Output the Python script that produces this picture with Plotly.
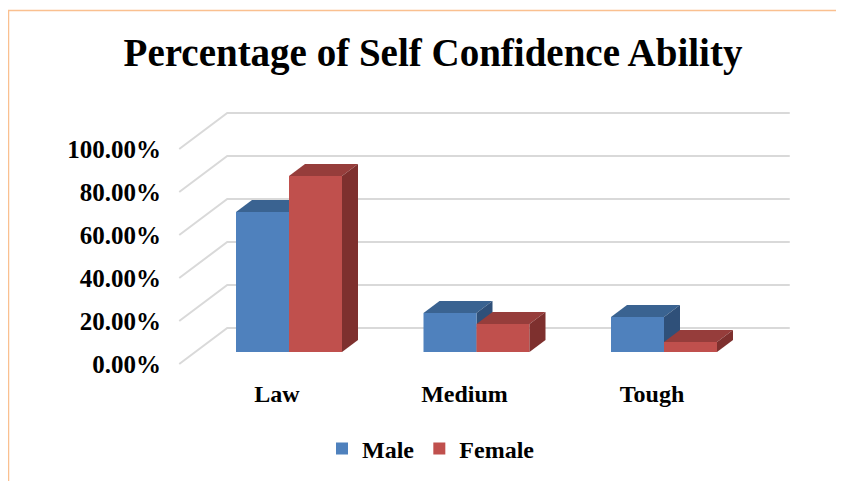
import plotly.graph_objects as go

# ---- data ----
categories = ["Law", "Medium", "Tough"]
male = [0.651, 0.181, 0.163]
female = [0.819, 0.130, 0.047]
y_ticks = [0, 0.2, 0.4, 0.6, 0.8, 1.0]

# ---- style / geometry (page has an 8px body margin) ----
OFF = 8
W, H = 844 - OFF, 481 - OFF
L, R, T, B = 165 - OFF, 800 - OFF, 100 - OFF, 375 - OFF
PX_PER_CAT = 187.5
PX_PER_UNIT = 215.0
CX0 = 289 - OFF     # pixel of first category centre (front plane)
Y0 = 352 - OFF      # pixel of 0 (front plane)
DXP, DYP = 16, 12   # oblique depth offset per depth unit (pixels)
ddx = DXP / PX_PER_CAT
ddy = DYP / PX_PER_UNIT
bw = 53 / PX_PER_CAT

xr = [(L - CX0) / PX_PER_CAT, (R - CX0) / PX_PER_CAT]
yr = [(Y0 - B) / PX_PER_UNIT, (Y0 - T) / PX_PER_UNIT]

FONT = "Liberation Serif"
grid_col = "#D9D9D9"
blue = dict(front="#4F81BD", top="#3A6391", side="#2F5079")
red = dict(front="#C0504D", top="#963D3B", side="#7E302E")

xs = list(range(len(categories)))
fig = go.Figure()

# back-wall gridlines with floor diagonals
x_left = -0.5
x_right = len(categories) - 0.5
for v in y_ticks:
    fig.add_trace(go.Scatter(
        x=[x_left - ddx, x_left + 2 * ddx, x_right + 2 * ddx],
        y=[v - ddy, v + 2 * ddy, v + 2 * ddy],
        mode="lines", line=dict(color=grid_col, width=2),
        hoverinfo="skip", showlegend=False, zorder=-1))


def faces(vals, off, col, z):
    for x, v in zip(xs, vals):
        x0 = x + off
        x1 = x0 + bw
        # top face
        fig.add_trace(go.Scatter(
            x=[x0, x0 + ddx, x1 + ddx, x1, x0],
            y=[v, v + ddy, v + ddy, v, v],
            mode="lines", fill="toself", fillcolor=col["top"],
            line=dict(width=0, color=col["top"]),
            hoverinfo="skip", showlegend=False, zorder=z))
        # side face
        fig.add_trace(go.Scatter(
            x=[x1, x1 + ddx, x1 + ddx, x1, x1],
            y=[0, ddy, v + ddy, v, 0],
            mode="lines", fill="toself", fillcolor=col["side"],
            line=dict(width=0, color=col["side"]),
            hoverinfo="skip", showlegend=False, zorder=z))


faces(male, -bw, blue, 0)
faces(female, 0, red, 2)

fig.add_trace(go.Bar(x=xs, y=male, name="<b>Male</b>", width=bw, offset=-bw,
                     marker=dict(color=blue["front"], line=dict(width=0)),
                     zorder=1))
fig.add_trace(go.Bar(x=xs, y=female, name="<b>Female</b>", width=bw, offset=0,
                     marker=dict(color=red["front"], line=dict(width=0)),
                     zorder=1))

# chart border
fig.add_shape(type="rect", xref="paper", yref="paper",
              x0=(8.5 - OFF - L) / (R - L), x1=(900 - L) / (R - L),
              y0=(B - 520) / (B - T), y1=(B - (10.5 - OFF)) / (B - T),
              line=dict(color="#FAC090", width=1.5), layer="below")

fig.update_layout(
    width=W, height=H,
    margin=dict(l=L, r=W - R, t=T, b=H - B, autoexpand=False),
    paper_bgcolor="white", plot_bgcolor="white",
    barmode="overlay",
    font=dict(family=FONT, color="black"),
    title=dict(text="<b>Percentage of Self Confidence Ability</b>",
               x=(433 - OFF) / W, xanchor="center", y=1 - (52 - OFF) / H,
               yanchor="middle",
               font=dict(size=39, family=FONT, color="black")),
    xaxis=dict(range=xr, tickvals=xs, ticktext=[f"<b>{c}</b>" for c in categories],
               showgrid=False, zeroline=False, showline=False, ticks="",
               ticklabelshift=-12, ticklabelstandoff=2,
               tickfont=dict(size=24, family=FONT, color="black")),
    yaxis=dict(range=yr, tickvals=y_ticks, tickformat=".2%",
               showgrid=False, zeroline=False, showline=False, ticks="",
               ticklabelshift=12, ticklabelstandoff=3,
               tickfont=dict(size=25, family=FONT, color="black", weight="bold")),
    legend=dict(orientation="h", xanchor="center", yanchor="middle",
                x=(431 - OFF - L) / (R - L), y=(B - (449 - OFF)) / (B - T),
                font=dict(size=24, family=FONT, color="black"),
                itemwidth=30, traceorder="normal"),
    showlegend=True,
)

fig.write_html("out.html")
